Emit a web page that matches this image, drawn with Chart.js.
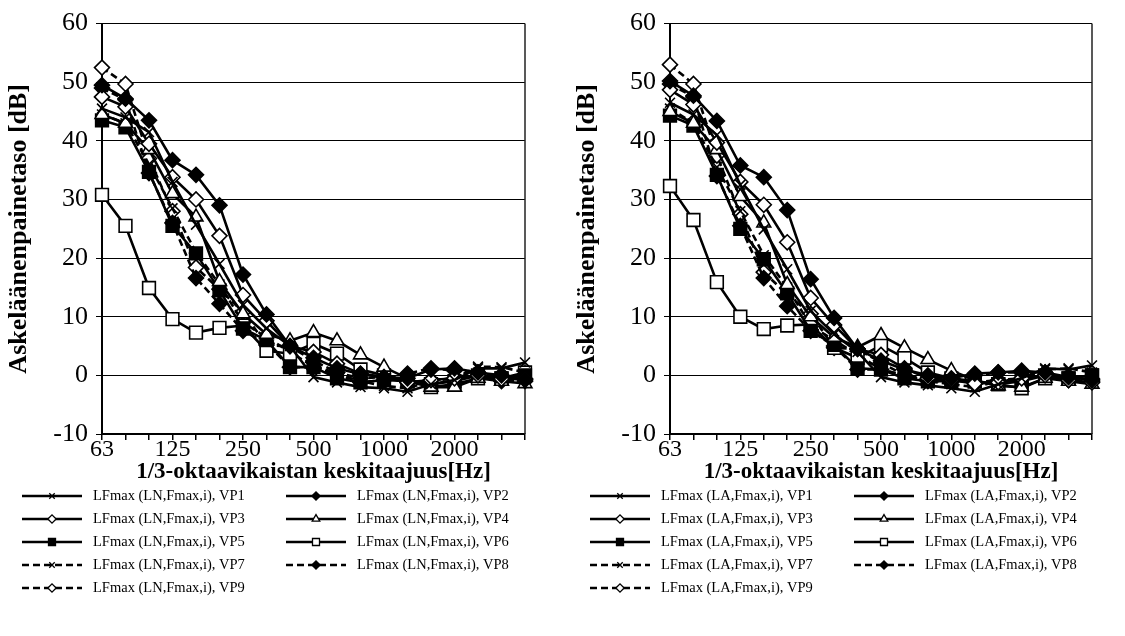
<!DOCTYPE html>
<html>
<head>
<meta charset="utf-8">
<script src="https://cdn.jsdelivr.net/npm/chart.js@4.4.1/dist/chart.umd.min.js"></script>
<style>
  html, body { margin: 0; padding: 0; background: #fff; }
  #wrap { position: relative; width: 1125px; height: 636px; overflow: hidden; background: #fff; }
  canvas { position: absolute; top: 0; }
</style>
</head>
<body>
<div id="wrap">
  <canvas id="chartLN" width="560" height="636" style="left:0"></canvas>
  <canvas id="chartLA" width="557" height="636" style="left:568px"></canvas>
</div>
<script>
// 1/3-octave band centre frequencies (Hz)
const freqs = ['63', '80', '100', '125', '160', '200', '250', '315', '400', '500',
               '630', '800', '1000', '1250', '1600', '2000', '2500', '3150', '4000'];
const labelledFreqs = ['63', '125', '250', '500', '1000', '2000'];
const pointNames = ['VP1', 'VP2', 'VP3', 'VP4', 'VP5', 'VP6', 'VP7', 'VP8', 'VP9'];

// LN,Fmax,i (dB)
const lnVP1 = [45.5, 44.0, 41.5, 33.0, 25.7, 19.0, 12.0, 8.0, 5.0, -0.3, -1.2, -2.0, -2.2, -2.8, -1.5, -0.8, 1.2, 1.2, 2.2];
const lnVP2 = [49.5, 47.2, 43.5, 36.7, 34.2, 29.0, 17.2, 10.4, 5.0, 3.0, 1.2, 0.2, -0.3, -0.5, 1.0, 1.2, 0.5, 0.0, -0.8];
const lnVP3 = [47.5, 45.8, 39.5, 33.8, 30.0, 23.8, 13.7, 9.3, 5.0, 4.0, 2.0, 0.3, -0.3, -1.2, -0.8, -0.5, 0.0, -0.6, -0.6];
const lnVP4 = [44.5, 43.0, 38.5, 31.0, 27.0, 16.0, 10.5, 7.0, 5.9, 7.3, 5.9, 3.5, 1.4, -0.5, -2.0, -2.0, -0.5, -1.0, -1.4];
const lnVP5 = [43.5, 42.3, 34.7, 25.5, 20.8, 14.5, 8.0, 6.0, 1.4, 1.4, -0.5, -1.2, -0.8, -1.0, -1.5, -1.0, 0.0, -0.5, 0.0];
const lnVP6 = [30.8, 25.5, 14.9, 9.6, 7.3, 8.1, 8.5, 4.2, 3.7, 5.4, 3.7, 1.0, 0.0, -1.0, -2.0, -1.5, -0.5, -0.5, 0.5];
const lnVP7 = [44.5, 43.0, 36.0, 28.5, 21.0, 15.5, 9.0, 6.5, 4.0, 1.5, 0.0, -1.0, -1.8, -2.2, -1.0, -0.5, 1.5, 1.4, 0.5];
const lnVP8 = [49.0, 47.0, 34.5, 26.0, 16.6, 12.2, 7.6, 5.5, 1.4, 1.4, 0.5, -1.2, -0.8, 0.3, 1.2, 0.8, 0.5, -1.0, -1.0];
const lnVP9 = [52.5, 49.7, 37.0, 28.0, 18.4, 14.7, 10.8, 5.2, 4.9, 2.5, 0.5, -0.5, -0.3, -1.2, -0.8, -0.5, 0.0, -0.6, -0.6];

// LA,Fmax,i (dB)
const laVP1 = [46.5, 44.5, 41.0, 32.5, 24.9, 18.1, 11.0, 7.0, 4.0, -0.3, -1.2, -1.7, -2.2, -2.8, -1.5, -0.5, 1.2, 1.0, 1.7];
const laVP2 = [50.2, 47.7, 43.4, 35.8, 33.8, 28.2, 16.4, 9.8, 4.5, 2.5, 1.0, 0.0, -0.5, 0.3, 0.5, 0.8, 0.5, -0.3, -0.8];
const laVP3 = [48.7, 46.2, 39.7, 33.0, 29.1, 22.7, 13.2, 8.6, 4.5, 3.5, 1.2, -0.5, -0.8, -1.4, -1.2, -0.5, 0.0, -0.8, -1.2];
const laVP4 = [45.0, 43.0, 38.5, 30.5, 26.0, 15.5, 10.0, 6.5, 4.8, 6.8, 4.7, 2.7, 0.8, -0.8, -1.8, -2.0, -0.5, -1.0, -1.5];
const laVP5 = [44.3, 42.6, 34.2, 25.0, 19.8, 14.0, 7.6, 5.2, 1.2, 1.0, -0.5, -1.0, -1.0, -1.0, -1.5, -1.0, 0.0, -0.5, 0.0];
const laVP6 = [32.3, 26.5, 15.9, 10.0, 7.9, 8.5, 8.7, 4.7, 3.0, 5.1, 3.0, 0.5, -0.5, -1.0, -1.5, -2.2, -0.5, -0.5, 0.0];
const laVP7 = [45.5, 43.0, 35.5, 28.0, 20.5, 15.0, 8.5, 6.0, 3.5, 1.0, 0.0, -1.0, -1.5, -2.0, -1.0, -0.5, 1.0, 1.2, 0.5];
const laVP8 = [49.7, 47.5, 34.0, 25.5, 16.6, 11.8, 7.6, 5.0, 1.0, 1.0, 0.0, -1.0, -1.0, 0.0, 0.5, 0.5, 0.5, -0.8, -1.0];
const laVP9 = [53.0, 49.7, 37.5, 27.5, 17.6, 13.8, 10.5, 4.7, 4.5, 2.2, 0.0, -0.5, -0.5, -1.2, -0.8, -0.5, 0.0, -0.6, -0.6];

const SERIF = "'Liberation Serif', 'Times New Roman', serif";

// marker / line look per measuring point
const looks = [
  { shape: 'crossRot', r: 7,   filled: false, dashed: false },
  { shape: 'rectRot',  r: 7.5, filled: true,  dashed: false },
  { shape: 'rectRot',  r: 7.5, filled: false, dashed: false },
  { shape: 'triangle', r: 8,   filled: false, dashed: false },
  { shape: 'rect',     r: 9,   filled: true,  dashed: false },
  { shape: 'rect',     r: 9,   filled: false, dashed: false },
  { shape: 'crossRot', r: 7,   filled: false, dashed: true },
  { shape: 'rectRot',  r: 7.5, filled: true,  dashed: true },
  { shape: 'rectRot',  r: 7.5, filled: false, dashed: true },
];

// right edge of the plot area
const plotFrame = {
  id: 'plotFrame',
  beforeDatasetsDraw(chart) {
    const { ctx, chartArea: a } = chart;
    ctx.save();
    ctx.strokeStyle = '#222';
    ctx.lineWidth = 1.5;
    ctx.beginPath();
    ctx.moveTo(a.right, a.top);
    ctx.lineTo(a.right, a.bottom);
    ctx.stroke();
    ctx.restore();
  }
};

// two-column legend under the x axis title
const seriesLegend = {
  id: 'seriesLegend',
  afterDraw(chart, args, opts) {
    const ctx = chart.ctx;
    ctx.save();
    chart.data.datasets.forEach((ds, i) => {
      const x0 = opts.cols[i % 2];
      const y = opts.top + Math.floor(i / 2) * opts.rowGap;
      ctx.strokeStyle = '#000';
      ctx.lineWidth = 2.5;
      ctx.setLineDash(ds.borderDash);
      ctx.beginPath();
      ctx.moveTo(x0, y);
      ctx.lineTo(x0 + opts.lineLen, y);
      ctx.stroke();
      ctx.setLineDash([]);
      ctx.fillStyle = ds.pointBackgroundColor;
      ctx.lineWidth = 1.3;
      Chart.helpers.drawPoint(ctx, {
        pointStyle: ds.pointStyle, radius: ds.pointRadius * 0.55, borderWidth: 1.3, rotation: 0
      }, x0 + opts.lineLen / 2, y);
      ctx.fillStyle = '#000';
      ctx.font = `14.5px ${SERIF}`;
      ctx.textBaseline = 'middle';
      ctx.textAlign = 'left';
      ctx.fillText(ds.label, x0 + opts.lineLen + opts.textGap, y);
    });
    ctx.restore();
  }
};

function makeChart(id, tag, series, padRight) {
  const datasets = series.map((vals, i) => {
    const lk = looks[i];
    return {
      label: `LFmax (${tag},Fmax,i), ${pointNames[i]}`,
      data: vals,
      borderColor: '#000',
      borderWidth: 2.6,
      borderDash: lk.dashed ? [7, 4] : [],
      pointStyle: lk.shape,
      pointRadius: lk.r,
      pointBackgroundColor: lk.filled ? '#000' : '#fff',
      pointBorderColor: '#000',
      pointBorderWidth: 1.6,
      tension: 0,
      fill: false
    };
  });

  return new Chart(document.getElementById(id), {
    type: 'line',
    data: { labels: freqs, datasets },
    plugins: [plotFrame, seriesLegend],
    options: {
      responsive: false,
      animation: false,
      events: [],
      layout: { padding: { top: 20, right: padRight, bottom: 150, left: 0 } },
      plugins: {
        legend: { display: false },
        tooltip: { enabled: false },
        seriesLegend: { cols: [22, 286], top: 496, rowGap: 23, lineLen: 60, textGap: 11 }
      },
      scales: {
        x: {
          type: 'category',
          offset: false,
          afterFit: (s) => { s.height = 52; },
          grid: { display: true, drawOnChartArea: false, drawTicks: true, tickLength: 6, color: '#000', lineWidth: 1.5 },
          border: { display: true, color: '#000', width: 2 },
          ticks: {
            autoSkip: false, maxRotation: 0, minRotation: 0, padding: -5,
            color: '#000', font: { family: SERIF, size: 24 },
            callback: (v, i) => labelledFreqs.includes(freqs[i]) ? freqs[i] : ''
          },
          title: {
            display: true, text: '1/3-oktaavikaistan keskitaajuus[Hz]', color: '#000',
            font: { family: SERIF, size: 23, weight: 'bold' }, padding: { top: 0, bottom: 0 }
          }
        },
        y: {
          min: -10, max: 60,
          afterFit: (s) => { s.width = 102; },
          grid: { color: '#000', lineWidth: 1, drawTicks: true, tickLength: 6 },
          border: { display: true, color: '#000', width: 2 },
          ticks: { stepSize: 10, padding: 8, color: '#000', font: { family: SERIF, size: 26 } },
          title: {
            display: true, text: 'Askeläänenpainetaso [dB]', color: '#000',
            font: { family: SERIF, size: 26, weight: 'bold' }, padding: { top: 4, bottom: 0 }
          }
        }
      }
    }
  });
}

makeChart('chartLN', 'LN', [lnVP1, lnVP2, lnVP3, lnVP4, lnVP5, lnVP6, lnVP7, lnVP8, lnVP9], 35);
makeChart('chartLA', 'LA', [laVP1, laVP2, laVP3, laVP4, laVP5, laVP6, laVP7, laVP8, laVP9], 33);
</script>
</body>
</html>
